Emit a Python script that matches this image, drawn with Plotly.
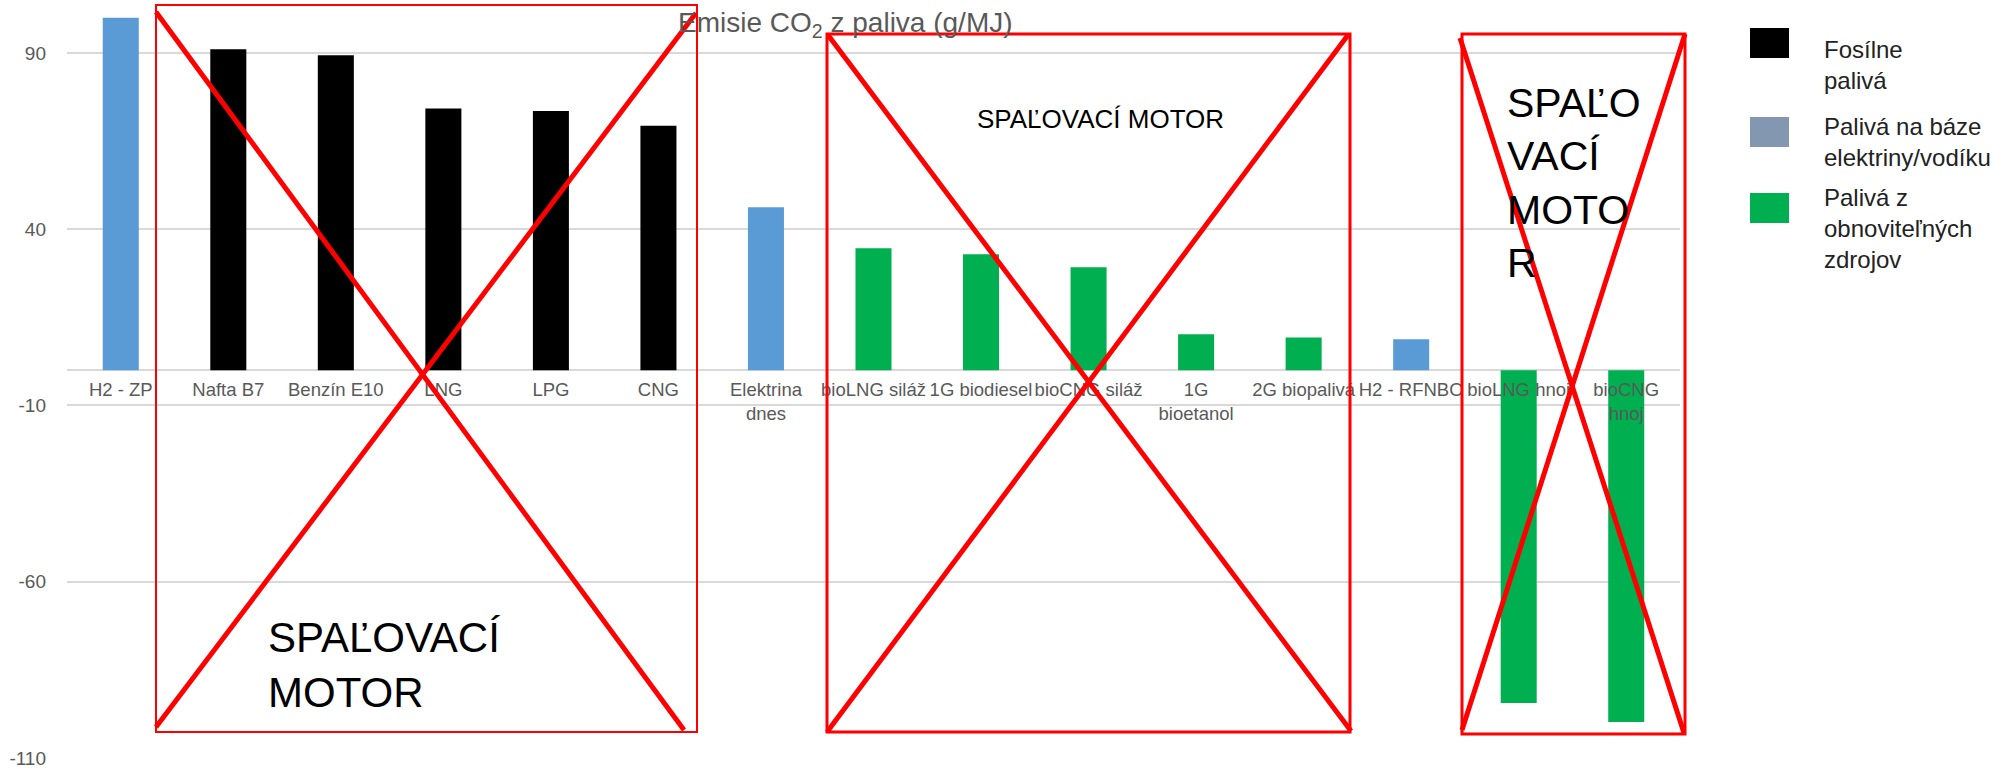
import plotly.graph_objects as go

# ---------------- data ----------------
categories = ["H2 - ZP", "Nafta B7", "Benzín E10", "LNG", "LPG", "CNG",
              "Elektrina dnes", "bioLNG siláž", "1G biodiesel", "bioCNG siláž",
              "1G bioetanol", "2G biopalivá", "H2 - RFNBO", "bioLNG hnoj", "bioCNG hnoj"]
tick_labels = ["H2 - ZP", "Nafta B7", "Benzín E10", "LNG", "LPG", "CNG",
               "Elektrina<br>dnes", "bioLNG siláž", "1G biodiesel", "bioCNG siláž",
               "1G<br>bioetanol", "2G biopalivá", "H2 - RFNBO", "bioLNG hnoj", "bioCNG<br>hnoj"]
values = [100.0, 91.0, 89.3, 74.2, 73.5, 69.3, 46.2, 34.6, 32.9, 29.2, 10.2, 9.3, 8.8, -94.4, -99.8]
groups = ["elec", "fossil", "fossil", "fossil", "fossil", "fossil", "elec",
          "renew", "renew", "renew", "renew", "renew", "elec", "renew", "renew"]
y_ticks = [90, 40, -10, -60, -110]
y_tick_labels = ["90", "40", "-10", "-60", "-110"]
y_range = [-110, 105]
legend_labels = ["Fosílne<br>palivá", "Palivá na báze<br>elektriny/vodíku",
                 "Palivá z<br>obnoviteľných<br>zdrojov"]
title_text = "Emisie CO<sub>2</sub> z paliva (g/MJ)"
overlay_texts = ["SPAĽOVACÍ<br>MOTOR", "SPAĽOVACÍ MOTOR", "SPAĽO<br>VACÍ<br>MOTO<br>R"]

# ---------------- style ----------------
bar_colors = {"fossil": "#000000", "elec": "#5B9BD5", "renew": "#00B050"}
legend_colors = ["#000000", "#8497B0", "#00B050"]
FONT = "Liberation Sans, Arial, sans-serif"
W, H = 2004, 769
ML, MR, MT, MB = 67, 324, 0, 11
PW, PH = W - ML - MR, H - MT - MB


def px(x):
    return (x - ML) / PW


def py(y):
    return (H - MB - y) / PH


fig = go.Figure(go.Bar(
    x=categories, y=values,
    marker=dict(color=[bar_colors[g] for g in groups], line=dict(width=0)),
    showlegend=False, hoverinfo="x+y",
))

zero_pos = (0 - y_range[0]) / (y_range[1] - y_range[0])

fig.update_layout(
    width=W, height=H,
    margin=dict(l=ML, r=MR, t=MT, b=MB, pad=0),
    paper_bgcolor="white", plot_bgcolor="white",
    bargap=0.665,
    font=dict(family=FONT, color="#595959"),
    xaxis=dict(type="category", tickvals=categories, ticktext=tick_labels,
               anchor="free", position=zero_pos, showline=False, showgrid=False,
               ticks="", tickangle=0, ticklabelstandoff=6,
               tickfont=dict(size=18.5, color="#595959", family=FONT),
               range=[-0.5, len(categories) - 0.5], fixedrange=True),
    yaxis=dict(range=y_range, tickvals=y_ticks, ticktext=y_tick_labels,
               showgrid=True, gridcolor="#d9d9d9",
               gridwidth=1.5, zeroline=True, zerolinecolor="#d9d9d9", zerolinewidth=1.5,
               ticks="", ticklabelstandoff=20, showline=False,
               tickfont=dict(size=19, color="#595959", family=FONT), fixedrange=True),
)

shapes = []
annotations = []

# title
annotations.append(dict(text=title_text, x=px(845), y=py(25), xref="paper", yref="paper",
                        xanchor="center", yanchor="middle", showarrow=False,
                        font=dict(size=28, color="#595959", family=FONT)))

# red crossed boxes
boxes = [
    # rect (x0,y0,x1,y1), diag1, diag2, rect width
    ((156, 5, 697, 732), (156, 12, 684, 730), (696, 13, 156, 727), 2),
    ((827, 34, 1350, 732), (828, 35, 1351, 731), (1348, 35, 827, 732), 3),
    ((1462, 34, 1685, 734), (1460, 38, 1684, 733), (1685, 34, 1462, 730), 3),
]
for rect, d1, d2, lw in boxes:
    shapes.append(dict(type="rect", xref="paper", yref="paper",
                       x0=px(rect[0]), y0=py(rect[1]), x1=px(rect[2]), y1=py(rect[3]),
                       line=dict(color="#FF0000", width=lw), fillcolor="rgba(0,0,0,0)",
                       layer="above"))
    for d in (d1, d2):
        shapes.append(dict(type="line", xref="paper", yref="paper",
                           x0=px(d[0]), y0=py(d[1]), x1=px(d[2]), y1=py(d[3]),
                           line=dict(color="#FF0000", width=5), layer="above"))

# overlay texts
annotations.append(dict(text=overlay_texts[0], x=px(266), y=py(665), xref="paper", yref="paper",
                        xanchor="left", yanchor="middle", align="left", showarrow=False,
                        font=dict(size=42, color="#000000", family=FONT)))
annotations.append(dict(text=overlay_texts[1], x=px(1100), y=py(119), xref="paper", yref="paper",
                        xanchor="center", yanchor="middle", align="center", showarrow=False,
                        font=dict(size=26, color="#000000", family=FONT)))
annotations.append(dict(text=overlay_texts[2], x=px(1505), y=py(183), xref="paper", yref="paper",
                        xanchor="left", yanchor="middle", align="left", showarrow=False,
                        font=dict(size=41, color="#000000", family=FONT)))

# custom legend
sw_tops = [28, 117, 193]
txt_tops = [34, 111, 182]
for lab, col, st, tt in zip(legend_labels, legend_colors, sw_tops, txt_tops):
    shapes.append(dict(type="rect", xref="paper", yref="paper",
                       x0=px(1750), x1=px(1789), y0=py(st), y1=py(st + 30),
                       line=dict(width=0), fillcolor=col))
    annotations.append(dict(text=lab, x=px(1822), y=py(tt), xref="paper", yref="paper",
                            xanchor="left", yanchor="top", align="left", showarrow=False,
                            font=dict(size=24, color="#222222", family=FONT)))

fig.update_layout(shapes=shapes, annotations=annotations)
fig.write_html("out.html", config={"displayModeBar": False},
               post_script="document.body.style.margin='0';document.body.style.overflow='hidden';")
